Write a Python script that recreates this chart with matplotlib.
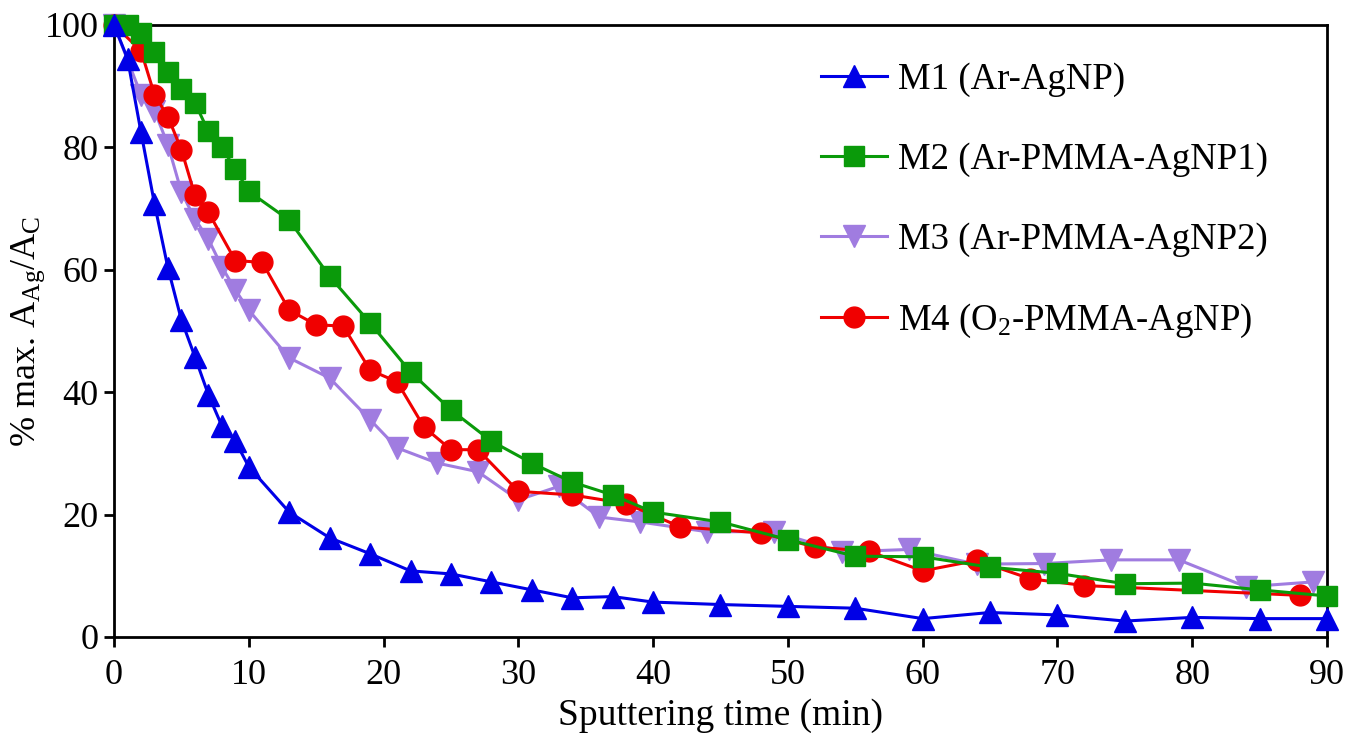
import matplotlib
matplotlib.use("Agg")
import matplotlib.pyplot as plt

plt.rcParams["font.family"] = ["Liberation Serif", "DejaVu Serif"]
plt.rcParams["mathtext.fontset"] = "custom"
plt.rcParams["mathtext.rm"] = "Liberation Serif"
plt.rcParams["mathtext.it"] = "Liberation Serif:italic"

# Sputtering time (min) and normalised Ag/C signal (%) per sample
m1_t = [0, 1, 2, 3, 4, 5, 6, 7, 8, 9, 10, 13, 16, 19, 22, 25, 28, 31, 34, 37, 40,
        45, 50, 55, 60, 65, 70, 75, 80, 85, 90]
m1_y = [100, 94.5, 82.5, 70.8, 60.3, 51.8, 45.8, 39.6, 34.5, 32.0, 27.8, 20.4, 16.2,
        13.6, 10.8, 10.3, 9.0, 7.7, 6.4, 6.6, 5.7, 5.3, 5.0, 4.7, 3.0, 4.0, 3.6,
        2.6, 3.2, 3.0, 3.0]

m2_t = [0, 1, 2, 3, 4, 5, 6, 7, 8, 9, 10, 13, 16, 19, 22, 25, 28, 31, 34, 37, 40,
        45, 50, 55, 60, 65, 70, 75, 80, 85, 90]
m2_y = [100, 100, 98.6, 95.6, 92.3, 89.5, 87.3, 82.6, 80.0, 76.4, 72.8, 68.1, 58.9,
        51.3, 43.3, 37.1, 32.0, 28.4, 25.3, 23.2, 20.4, 18.8, 15.9, 13.2, 13.1,
        11.4, 10.4, 8.7, 8.8, 7.7, 6.7]

m3_t = [0, 2, 3, 4, 5, 6, 7, 8, 9, 10, 13, 16, 19, 21, 24, 27, 30, 33, 36, 39, 44,
        49, 54, 59, 64, 69, 74, 79, 84, 89]
m3_y = [100, 88.6, 86.0, 80.4, 72.7, 68.3, 65.0, 60.5, 56.7, 53.4, 45.6, 42.3, 35.5,
        30.9, 28.4, 27.0, 22.4, 24.6, 19.6, 18.8, 17.2, 17.2, 13.9, 14.3, 11.9,
        12.0, 12.6, 12.6, 8.2, 9.0]

m4_t = [0, 2, 3, 4, 5, 6, 7, 9, 11, 13, 15, 17, 19, 21, 23, 25, 27, 30, 34, 38, 42,
        48, 52, 56, 60, 64, 68, 72, 88]
m4_y = [100, 95.8, 88.6, 85.0, 79.6, 72.2, 69.4, 61.5, 61.2, 53.4, 51.0, 50.8, 43.6,
        41.7, 34.3, 30.6, 30.6, 23.8, 23.2, 21.8, 18.0, 17.0, 14.7, 14.0, 10.8,
        12.5, 9.5, 8.4, 6.8]

labels = ["M1 (Ar-AgNP)", "M2 (Ar-PMMA-AgNP1)", "M3 (Ar-PMMA-AgNP2)",
          "M4 (O$_2$-PMMA-AgNP)"]
x_ticks = [0, 10, 20, 30, 40, 50, 60, 70, 80, 90]
y_ticks = [0, 20, 40, 60, 80, 100]

fig = plt.figure(figsize=(13.51, 7.33), dpi=100)
ax = fig.add_axes([0.0844, 0.131, 0.8978, 0.835])

common = dict(lw=2.2, clip_on=False)
h1, = ax.plot(m1_t, m1_y, color="#0000e6", marker="^", ms=16, zorder=6,
              label=labels[0], **common)
h2, = ax.plot(m2_t, m2_y, color="#0a9a0a", marker="s", ms=14, zorder=5,
              label=labels[1], **common)
h3, = ax.plot(m3_t, m3_y, color="#a07ce0", marker="v", ms=16, zorder=3,
              label=labels[2], **common)
h4, = ax.plot(m4_t, m4_y, color="#f00000", marker="o", ms=15, zorder=4,
              label=labels[3], **common)

ax.set_xlim(0, 90)
ax.set_ylim(0, 100)
ax.set_xticks(x_ticks)
ax.set_yticks(y_ticks)
ax.tick_params(axis="both", direction="out", length=7, width=2, labelsize=26,
               pad=4)
ax.tick_params(axis="x", pad=9)
for s in ax.spines.values():
    s.set_linewidth(2)

ax.set_xlabel("Sputtering time (min)", fontsize=27)
ax.xaxis.set_label_coords(0.5, -0.1)
ax.set_ylabel("% max. A$_{\\mathrm{Ag}}$/A$_{\\mathrm{C}}$", fontsize=26)
ax.yaxis.set_label_coords(-0.055, 0.5)

fig.legend(handles=[h1, h2, h3, h4], loc="upper left",
           bbox_to_anchor=(0.594, 0.94), frameon=False, fontsize=26.5,
           labelspacing=1.23, handlelength=1.8, handletextpad=0.3, borderpad=0)

fig.savefig("out.png", dpi=100)
